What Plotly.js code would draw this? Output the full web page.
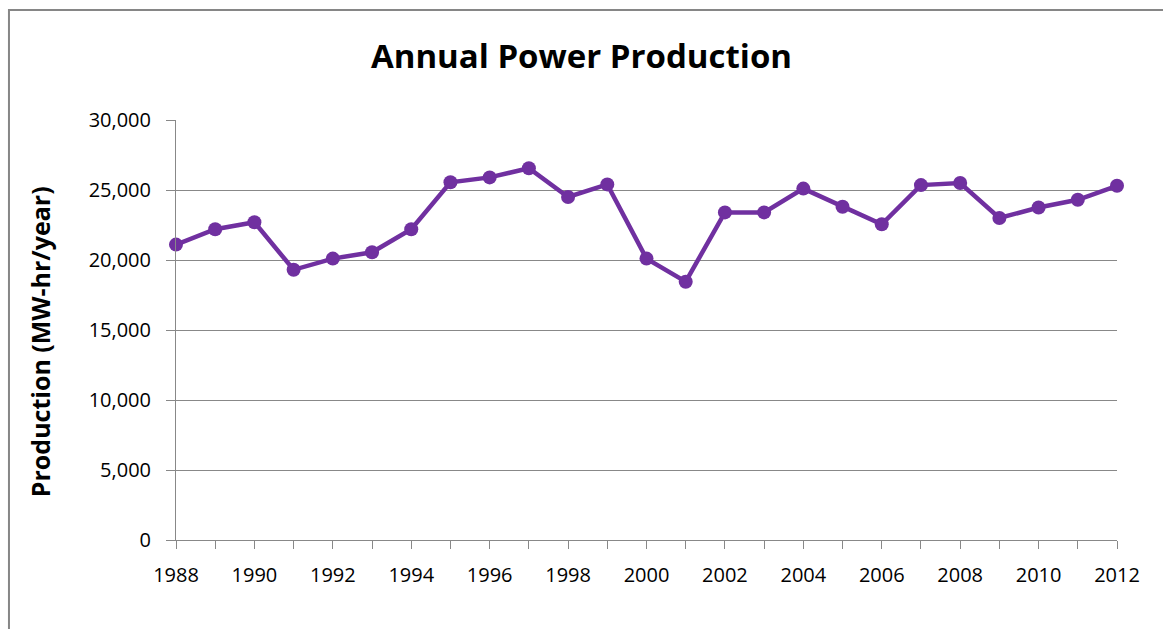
<!DOCTYPE html>
<html>
<head>
<meta charset="utf-8">
<script src="https://cdn.plot.ly/plotly-3.0.1.min.js"></script>
<style>html,body{margin:0;padding:0;background:#fff;}#chart{width:1163px;height:629px;}</style>
</head>
<body>
<div id="chart"></div>
<script>
const years = [1988,1989,1990,1991,1992,1993,1994,1995,1996,1997,1998,1999,2000,2001,2002,2003,2004,2005,2006,2007,2008,2009,2010,2011,2012];
const production = [21100,22200,22700,19300,20100,20550,22200,25550,25900,26550,24500,25400,20100,18450,23400,23400,25100,23800,22550,25350,25500,23000,23750,24300,25300];
const titleText = "Annual Power Production";
const yTitleText = "Production (MW-hr/year)";

const font = "'Open Sans', 'Noto Sans', sans-serif";
const trace = {
  x: years, y: production, type: 'scatter', mode: 'lines+markers',
  line: {color: '#7030A0', width: 4.5},
  marker: {color: '#7030A0', size: 14},
  hoverinfo: 'skip', cliponaxis: false
};
const layout = {
  width: 1163, height: 629,
  margin: {l: 176, r: 46, t: 120, b: 89},
  paper_bgcolor: '#fff', plot_bgcolor: '#fff',
  showlegend: false,
  title: {text: '<b>' + titleText + '</b>', x: 0.5, xref: 'container', xanchor: 'center', y: 0.91, yanchor: 'middle',
          font: {family: font, size: 33, color: '#000'}},
  xaxis: {
    range: [1988, 2012], tick0: 1988, dtick: 2, ticks: 'outside', ticklen: 8, tickcolor: '#888', tickwidth: 1,
    minor: {dtick: 1, tick0: 1988, ticks: 'outside', ticklen: 8, tickcolor: '#888', showgrid: false},
    showgrid: false, showline: true, linecolor: '#888', linewidth: 1, zeroline: false,
    tickfont: {family: font, size: 20, color: '#000'}, ticklabelstandoff: 9, fixedrange: true
  },
  yaxis: {
    range: [0, 30000], dtick: 5000, tickformat: ',d', ticks: 'outside', ticklen: 9, tickcolor: '#888',
    showgrid: true, gridcolor: '#888', gridwidth: 1, showline: true, linecolor: '#888', zeroline: false,
    tickfont: {family: font, size: 20, color: '#000'}, ticklabelstandoff: 11,
    fixedrange: true
  },
  annotations: [{
    text: '<b>' + yTitleText + '</b>', xref: 'paper', yref: 'paper', x: -0.1445, y: 0.471,
    xanchor: 'center', yanchor: 'middle', textangle: -90, showarrow: false,
    font: {family: font, size: 25, color: '#000'}
  }],
  shapes: [{
    type: 'rect', xref: 'paper', yref: 'paper',
    x0: -0.1775, x1: 1.2, y0: -0.3, y1: 1.2619,
    line: {color: '#868686', width: 2}, fillcolor: 'rgba(0,0,0,0)', layer: 'below'
  }]
};
Plotly.newPlot('chart', [trace], layout, {displayModeBar: false, staticPlot: true});
</script>
</body>
</html>
